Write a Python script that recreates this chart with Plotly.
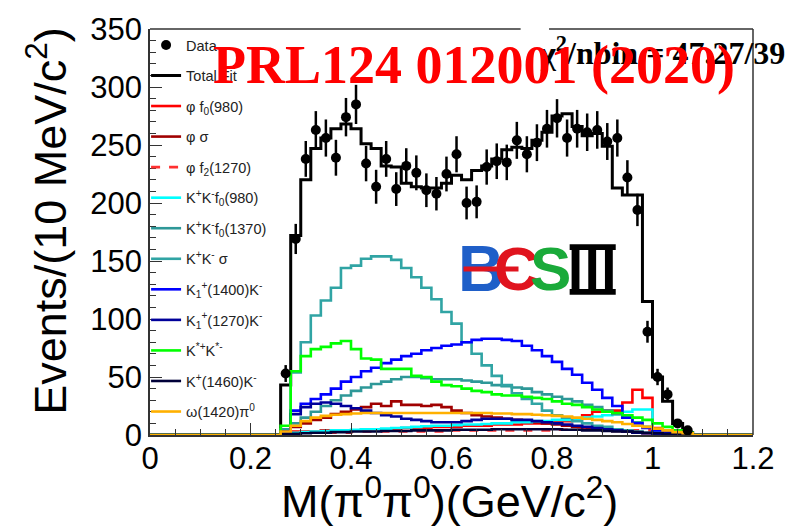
import numpy as np
import plotly.graph_objects as go

# ---------------- data (bin centres 0.27 ... 1.07 GeV, 20 MeV steps) ----------------
bin_centers = [round(0.27 + 0.02 * i, 2) for i in range(41)]

data_counts = [53, 169, 238, 263, 256, 239, 274, 285, 234, 214, 238, 212, 232, 226, 211,
               208, 225, 242, 200, 201, 231, 236, 235, 254, 242, 252, 264, 273, 256, 264,
               261, 263, 253, 256, 222, 194, 89, 50, 35, 10, 4]

total_fit = [43, 172, 220, 247, 256, 264, 268, 264, 251, 247, 232, 231, 217, 214, 213,
             213, 217, 224, 220, 228, 232, 238, 246, 248, 247, 254, 261, 275, 277, 266,
             258, 260, 249, 213, 207, 207, 115, 50, 29, 10, 2]

phi_f0_980 = [1, 3, 3, 3, 4, 4, 4, 4, 5, 5, 5, 5, 6, 6, 6,
              7, 7, 7, 8, 8, 8, 9, 9, 9, 10, 10, 10, 11, 12, 14,
              17, 20, 21, 21, 28, 39, 32, 6, 3, 1, 0]

phi_sigma = [2, 7, 10, 13, 15, 18, 20, 22, 24, 27, 25, 29, 26, 26, 25,
             26, 24, 21, 19, 17, 16, 15, 14, 13, 12, 11, 10, 9, 8, 7,
             6, 5, 4, 3.5, 3, 2, 1.5, 1, 0.5, 0, 0]

phi_f2_1270 = [1, 2, 2, 2, 2, 2, 2, 3, 3, 3, 3, 3, 3, 3, 3,
               3, 3, 4, 4, 4, 4, 4, 4, 4, 4, 4, 4, 4.5, 4.5, 4.5,
               4.5, 4.5, 4.5, 4, 4, 4, 4, 2, 1, 0.5, 0]

kk_f0_980 = [1, 2, 2.5, 3, 3.5, 4, 4, 4.5, 5, 5, 5.5, 6, 6.5, 7, 7.5,
             8, 8, 8.5, 9, 9, 9.5, 10, 10, 11, 11, 12, 12, 13, 13, 14,
             15, 16, 17, 18, 20, 22, 22, 3, 1, 0, 0]

kk_f0_1370 = [5, 10, 15, 20, 25, 30, 34, 38, 41, 44, 46, 48, 50, 50, 49,
              48, 48, 48, 47, 46, 45, 43, 42, 41, 40, 37, 35, 33, 31, 29,
              26, 24, 21, 18, 15, 11, 7, 4, 2, 1, 0]

kk_sigma = [0, 54, 80, 103, 116, 127, 144, 146, 152, 154, 154, 151, 144, 136, 127,
            117, 106, 96, 80, 70, 60, 51, 43, 36, 31, 27, 21, 17, 15, 12,
            10, 8, 7, 5, 4, 3, 2, 1, 0.5, 0, 0]

k1_1400_k = [3, 21, 27, 31, 35, 40, 46, 50, 55, 58, 62, 65, 68, 70, 73,
             75, 77, 78, 80, 82, 83, 83, 82, 81, 77, 73, 68, 63, 57, 52,
             45, 39, 32, 25, 15, 10, 6, 4, 2, 1, 0]

k1_1270_k = [3, 18, 24, 27, 28, 27, 25, 23, 21, 19, 17, 16, 14, 13, 12,
             11, 11, 11, 12, 13, 14, 14, 14, 13, 13, 12, 11, 10, 9, 8,
             7, 6, 5, 4, 3, 2, 1.5, 1, 0.5, 0, 0]

kstar_kstar = [8, 55, 68, 74, 76, 79, 81, 74, 66, 65, 57, 57, 57, 51, 50,
               46, 43, 42, 40, 38, 37, 35, 34, 34, 33, 32, 31, 29, 27, 26,
               24, 22, 20, 19, 17, 15, 13, 10, 7, 4, 2]

k_1460_k = [0.5, 1, 1.5, 2, 2, 2.5, 2.5, 3, 3, 3, 3.5, 3.5, 3.5, 4, 4,
            4, 4, 4.5, 4.5, 4.5, 4.5, 5, 5, 5, 5, 5, 5, 5, 4.5, 4.5,
            4, 4, 3.5, 3, 3, 2.5, 2, 1.5, 1, 0.5, 0]

omega_1420_pi0 = [3, 8, 12, 15, 16.5, 17.5, 18, 18.5, 19, 19, 19, 19, 19, 19, 19,
                  19, 19, 19, 19, 19, 19, 18.5, 18.5, 18, 18, 17.5, 17, 16.5, 16, 15,
                  14, 13, 12, 11, 9.5, 8, 7, 5.5, 4, 2.5, 1.5]

x_ticks = [0, 0.2, 0.4, 0.6, 0.8, 1, 1.2]
x_ticklabels = ["0", "0.2", "0.4", "0.6", "0.8", "1", "1.2"]
y_ticks = [0, 50, 100, 150, 200, 250, 300, 350]

components = [
    ("φ f<sub>0</sub>(980)", phi_f0_980, "#ff0000", "solid"),
    ("φ σ", phi_sigma, "#a00000", "solid"),
    ("φ f<sub>2</sub>(1270)", phi_f2_1270, "#ff3030", "dash"),
    ("K<sup>+</sup>K<sup>-</sup>f<sub>0</sub>(980)", kk_f0_980, "#00ffff", "solid"),
    ("K<sup>+</sup>K<sup>-</sup>f<sub>0</sub>(1370)", kk_f0_1370, "#2e9898", "solid"),
    ("K<sup>+</sup>K<sup>-</sup> σ", kk_sigma, "#30a4a4", "solid"),
    ("K<sub>1</sub><sup>+</sup>(1400)K<sup>-</sup>", k1_1400_k, "#0000ff", "solid"),
    ("K<sub>1</sub><sup>+</sup>(1270)K<sup>-</sup>", k1_1270_k, "#00009a", "solid"),
    ("K<sup>*+</sup>K<sup>*-</sup>", kstar_kstar, "#00ff00", "solid"),
    ("K<sup>+</sup>(1460)K<sup>-</sup>", k_1460_k, "#000038", "solid"),
    ("ω(1420)π<sup>0</sup>", omega_1420_pi0, "#ffb000", "solid"),
]

# ---------------- helpers ----------------
BW = 0.02
N_FULL = 60  # 0 .. 1.2 GeV
edges = np.round(np.arange(N_FULL + 1) * BW, 4)
first_idx = int(round((bin_centers[0] - BW / 2) / BW))


def full_hist(vals):
    h = np.zeros(N_FULL)
    h[first_idx:first_idx + len(vals)] = vals
    return list(h) + [h[-1]]


W, H = 787, 530
L, R, T, B = 150, 22, 18, 95
PW, PH = W - L - R, H - T - B


def px(X):
    return (X - L) / PW


def py(Y):
    return (H - B - Y) / PH


fig = go.Figure()

# total fit
fig.add_trace(go.Scatter(
    x=edges, y=full_hist(total_fit), mode="lines", name="Total Fit",
    line=dict(color="black", width=3, shape="hv"), legendgroup="g1", legendrank=2))

for i, (nm, vals, col, dash) in enumerate(components):
    fig.add_trace(go.Scatter(
        x=edges, y=full_hist(vals), mode="lines", name=nm,
        line=dict(color=col, width=2.6, shape="hv", dash=dash),
        legendgroup=f"c{i}", legendrank=3 + i))

# data on top
fig.add_trace(go.Scatter(
    x=bin_centers, y=data_counts, mode="markers", name="Data",
    marker=dict(color="black", size=10, symbol="circle"),
    error_y=dict(type="data", array=list(np.sqrt(data_counts)), color="black",
                 thickness=2.5, width=0),
    legendgroup="g0", legendrank=1))


def ann(text, X, Y, size, family, color="black", xanchor="center", angle=0):
    return dict(text=text, x=px(X), y=py(Y), xref="paper", yref="paper",
                xanchor=xanchor, yanchor="middle", showarrow=False, textangle=angle,
                font=dict(family=family, size=size, color=color))


logo_font = "Liberation Sans"
annotations = [
    ann("<b>χ<sup>2</sup>/nbin = 47.27/39</b>", 800, 41, 32, "Liberation Serif", xanchor="right"),
    ann("<b>PRL124 012001 (2020)</b>", 480, 55, 54, "Liberation Serif", color="#ff0000"),
    ann("Events/(10 MeV/c<sup>2</sup>)", 45, 215, 45, "Liberation Sans", angle=-90),
    ann("M(π<sup>0</sup>π<sup>0</sup>)(GeV/c<sup>2</sup>)", 455, 500, 45, "Liberation Sans"),
    # BESIII logo letters
    ann("<b>B</b>", 488, 264, 64, logo_font, color="#1f5fc8"),
    ann("<b>C</b>", 524, 264, 62, logo_font, color="#e0141e"),
    ann("<b>S</b>", 558, 264, 62, logo_font, color="#1aaa3a"),
]
# red bar of the logo's E running through the B
annotations.append(dict(text="", x=px(498), y=py(265), xref="paper", yref="paper",
                        xanchor="center", yanchor="middle", showarrow=False,
                        width=54, height=4, bgcolor="#e0141e", borderpad=0))

shapes = [
    # frame: top (with gap) and right border
    dict(type="line", xref="paper", yref="paper", x0=0, x1=px(528), y0=1, y1=1,
         line=dict(color="#333", width=1.5)),
    dict(type="line", xref="paper", yref="paper", x0=px(557), x1=1, y0=1, y1=1,
         line=dict(color="#333", width=1.5)),
    dict(type="line", xref="paper", yref="paper", x0=1, x1=1, y0=0, y1=1,
         line=dict(color="#333", width=1.5)),
]
# the logo's "III"
for (x0, x1, y0, y1) in [(580, 588, 240, 290), (597, 605, 240, 290), (614, 622, 240, 290),
                         (578, 625, 239, 245), (578, 625, 285, 291)]:
    shapes.append(dict(type="rect", xref="paper", yref="paper", layer="above",
                       x0=px(x0), x1=px(x1), y0=py(y1), y1=py(y0),
                       fillcolor="black", line=dict(width=0)))

fig.update_layout(
    width=W, height=H, margin=dict(l=L, r=R, t=T, b=B),
    paper_bgcolor="white", plot_bgcolor="white",
    showlegend=True,
    legend=dict(x=px(146), y=py(18), xanchor="left", yanchor="top",
                bgcolor="rgba(0,0,0,0)", tracegroupgap=8.7,
                font=dict(family="Liberation Sans", size=14.5, color="#222"),
                itemwidth=30),
    annotations=annotations, shapes=shapes,
    xaxis=dict(range=[0, 1.2], tickvals=x_ticks, ticktext=x_ticklabels,
               ticks="inside", ticklen=12, tickwidth=1, tickcolor="#333",
               minor=dict(dtick=0.05, ticks="inside", ticklen=6, tickcolor="#333"),
               showline=True, linecolor="#333", linewidth=1.5, mirror=False,
               showgrid=False, zeroline=False, ticklabelstandoff=-5,
               tickfont=dict(family="Liberation Sans", size=31, color="black")),
    yaxis=dict(range=[0, 350], tickvals=y_ticks,
               ticks="inside", ticklen=12, tickwidth=1, tickcolor="#333",
               minor=dict(dtick=10, ticks="inside", ticklen=6, tickcolor="#333"),
               showline=True, linecolor="#333", linewidth=1.5, mirror=False,
               showgrid=False, zeroline=False,
               tickfont=dict(family="Liberation Sans", size=31, color="black")),
)

fig.write_html("out.html")
